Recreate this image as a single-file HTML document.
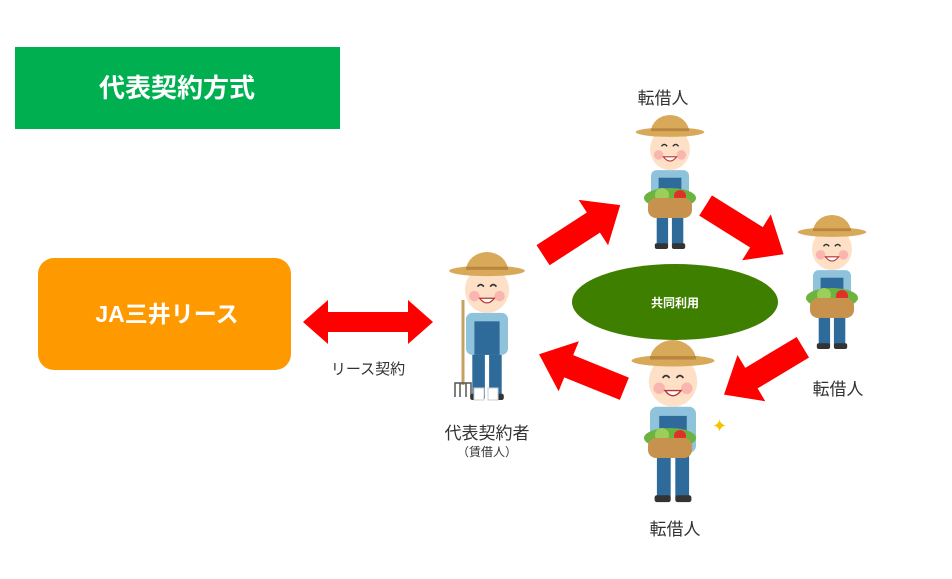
<!DOCTYPE html>
<html><head><meta charset="utf-8"><style>
html,body{margin:0;padding:0;background:#fff;width:952px;height:579px;overflow:hidden;font-family:"Liberation Sans","Noto Sans CJK JP",sans-serif;}
</style></head><body>
<svg width="952" height="579" viewBox="0 0 952 579" xmlns="http://www.w3.org/2000/svg" font-family="Liberation Sans, Noto Sans CJK JP, sans-serif">
<defs>
<g id="arr"><polygon points="10,-12 -50,-12 -50,12 10,12 10,27 42,0 10,-27" fill="#ff0000"/></g>
<g id="farmer">
  <rect x="-14" y="95" width="12" height="42" fill="#2f6b9a"/>
  <rect x="2" y="95" width="12" height="42" fill="#2f6b9a"/>
  <rect x="-16" y="135" width="14" height="6" rx="2" fill="#333"/>
  <rect x="2" y="135" width="14" height="6" rx="2" fill="#333"/>
  <rect x="-20" y="58" width="40" height="40" rx="6" fill="#8fc3dc"/>
  <rect x="-12" y="66" width="24" height="32" fill="#2f6b9a"/>
  <ellipse cx="0" cy="36" rx="21" ry="22" fill="#fde0c6"/>
  <circle cx="-12" cy="42" r="5" fill="#f9b5b0"/>
  <circle cx="12" cy="42" r="5" fill="#f9b5b0"/>
  <path d="M-9,33 q3,-4 6,0 M3,33 q3,-4 6,0" stroke="#333" stroke-width="1.5" fill="none"/>
  <path d="M-7,44 q7,9 14,0 z" fill="#fff" stroke="#b33" stroke-width="1.2"/>
  <path d="M-20,18 a20,18 0 0 1 40,0 z" fill="#d9a95a"/>
  <ellipse cx="0" cy="18" rx="36" ry="5" fill="#d9a95a"/>
  <rect x="-20" y="14" width="40" height="3" fill="#b98540"/>
</g>
<g id="basket">
  <ellipse cx="0" cy="0" rx="26" ry="10" fill="#6cb33f"/>
  <circle cx="-8" cy="-3" r="7" fill="#9bcf5a"/>
  <circle cx="10" cy="-2" r="6" fill="#e0302a"/>
  <rect x="-22" y="0" width="44" height="20" rx="8" fill="#c7924d"/>
</g>
</defs>

<rect x="15" y="47" width="325" height="82" fill="#00b050"/>
<text x="177" y="97" font-size="26" font-weight="bold" fill="#fff" text-anchor="middle">代表契約方式</text>

<rect x="38" y="258" width="253" height="112" rx="16" fill="#ff9900"/>
<text x="167" y="322" font-size="23" font-weight="bold" fill="#fff" text-anchor="middle">JA三井リース</text>

<polygon points="303,322 328,300 328,312 408,312 408,300 433,322 408,344 408,332 328,332 328,344" fill="#ff0000"/>
<text x="368" y="374" font-size="15" fill="#333" text-anchor="middle">リース契約</text>

<ellipse cx="675" cy="302" rx="103" ry="38" fill="#3f7f00"/>
<text x="675" y="307" font-size="12" font-weight="bold" fill="#fff" text-anchor="middle">共同利用</text>

<use href="#arr" transform="translate(585,228) rotate(-33)"/>
<use href="#arr" transform="translate(748,232) rotate(32)"/>
<use href="#arr" transform="translate(760,373) rotate(149)"/>
<use href="#arr" transform="translate(578,370) rotate(202)"/>

<line x1="463" y1="300" x2="463" y2="385" stroke="#c8a060" stroke-width="3"/>
<path d="M455,397 v-14 h16 v14 M460,383 v14 M466,383 v14" stroke="#555" stroke-width="1.5" fill="none"/>
<use href="#farmer" transform="translate(487,252) scale(1.05)"/>
<rect x="474" y="388" width="10" height="12" fill="#fff" stroke="#ccc"/>
<rect x="488" y="388" width="10" height="12" fill="#fff" stroke="#ccc"/>

<use href="#farmer" transform="translate(670,115) scale(0.95)"/>
<use href="#basket" transform="translate(670,198)"/>
<use href="#farmer" transform="translate(832,215) scale(0.95)"/>
<use href="#basket" transform="translate(832,298)"/>
<use href="#farmer" transform="translate(673,340) scale(1.15)"/>
<use href="#basket" transform="translate(670,438)"/>
<text x="712" y="432" font-size="18" fill="#f5c400">✦</text>

<text x="663" y="104" font-size="17" fill="#333" text-anchor="middle">転借人</text>
<text x="838" y="395" font-size="17" fill="#333" text-anchor="middle">転借人</text>
<text x="675" y="535" font-size="17" fill="#333" text-anchor="middle">転借人</text>
<text x="487" y="439" font-size="17" fill="#333" text-anchor="middle">代表契約者</text>
<text x="487" y="456" font-size="12" fill="#333" text-anchor="middle">（賃借人）</text>
</svg>
</body></html>
